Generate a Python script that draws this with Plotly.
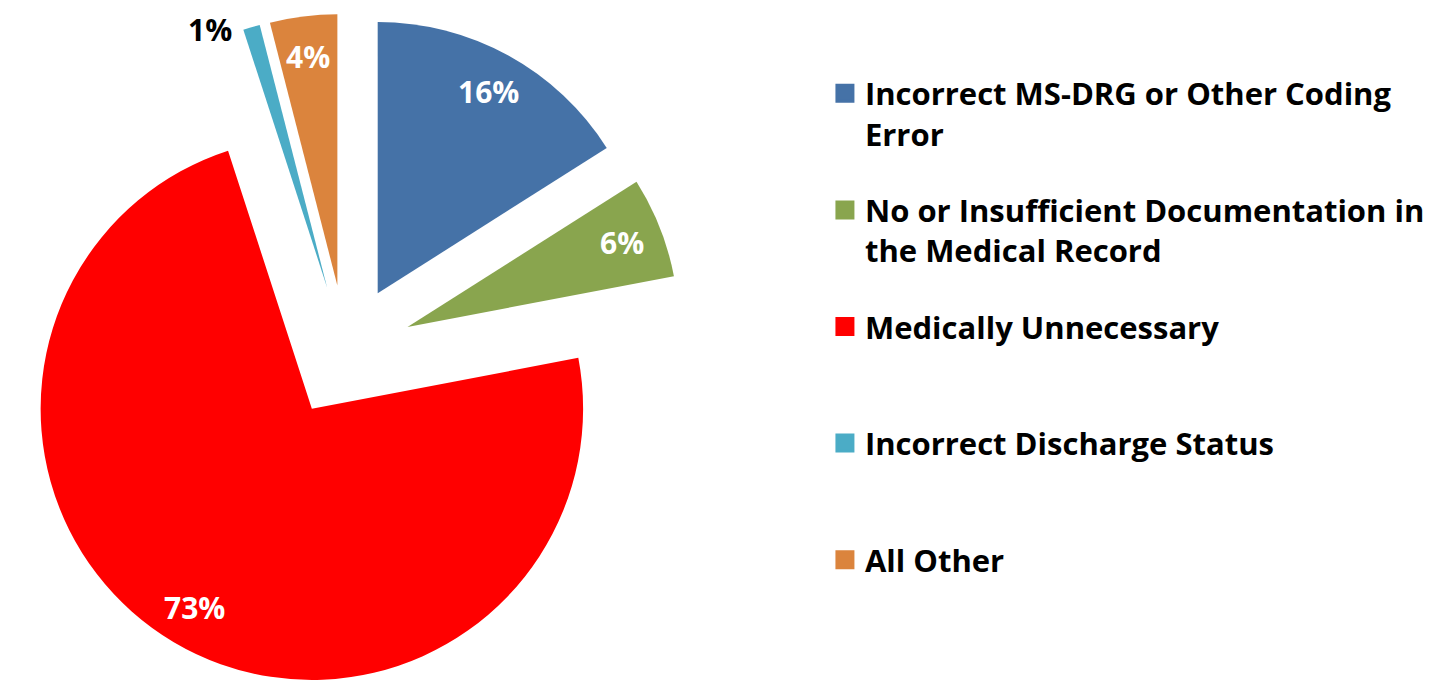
import math

import plotly.graph_objects as go

labels = [
    "Incorrect MS-DRG or Other Coding<br>Error",
    "No or Insufficient Documentation in<br>the Medical Record",
    "Medically Unnecessary<br> ",
    "Incorrect Discharge Status<br> ",
    "All Other<br> ",
]
values = [16, 6, 73, 1, 4]
colors = ["#4572A7", "#89A54E", "#FF0000", "#4BACC6", "#DB843D"]
text_colors = ["white", "white", "white", "black", "white"]
label_outside = [False, False, False, True, False]

FONT = "Open Sans"
W, H = 1437, 687
PULL = 0.245
PIE_X = [0, 0.47]

fig = go.Figure()
fig.add_trace(go.Pie(
    labels=labels,
    values=values,
    sort=False,
    direction="clockwise",
    rotation=0,
    pull=PULL,
    marker=dict(colors=colors, line=dict(width=0)),
    textinfo="none",
    domain=dict(x=PIE_X, y=[0, 1]),
    showlegend=False,
    hoverinfo="label+percent",
))

# percent labels near the outer end of each slice, like Excel does
dom_w = W * (PIE_X[1] - PIE_X[0])
r = min(dom_w, H) / (2 + 2 * PULL)
cx = W * (PIE_X[0] + PIE_X[1]) / 2
cy = H / 2
total = sum(values)
start = 0
for v, tc, outside in zip(values, text_colors, label_outside):
    mid = (start + v / 2) / total * 2 * math.pi
    start += v
    dx, dy = math.sin(mid), -math.cos(mid)
    dist = PULL * r + (0.99 if outside else 0.85) * r
    px, py = cx + dist * dx, cy + dist * dy
    fig.add_annotation(
        x=px / W, y=1 - py / H, xref="paper", yref="paper",
        text=f"{round(v / total * 100)}%",
        showarrow=False,
        xanchor="right" if outside else "center",
        yanchor="middle",
        xshift=-18 if outside else 0,
        font=dict(family=FONT, size=30, color=tc, weight="bold"),
    )

# legend entries as separate groups so the spacing can be set
for i, (name, col) in enumerate(zip(labels, colors)):
    fig.add_trace(go.Scatter(
        x=[None], y=[None],
        mode="markers",
        name=name,
        legendgroup=f"g{i}",
        marker=dict(symbol="square", size=16, color=col,
                    line=dict(width=3, color=col)),
        hoverinfo="skip",
    ))

fig.update_layout(
    width=W,
    height=H,
    margin=dict(l=0, r=0, t=0, b=0, autoexpand=False),
    paper_bgcolor="white",
    plot_bgcolor="white",
    xaxis=dict(visible=False),
    yaxis=dict(visible=False),
    legend=dict(
        x=0.5685, y=0.9146, xanchor="left", yanchor="top",
        font=dict(family=FONT, size=31, color="black", weight="bold"),
        traceorder="grouped",
        tracegroupgap=33,
        valign="top",
        bgcolor="rgba(0,0,0,0)",
    ),
)

fig.write_html("out.html")
